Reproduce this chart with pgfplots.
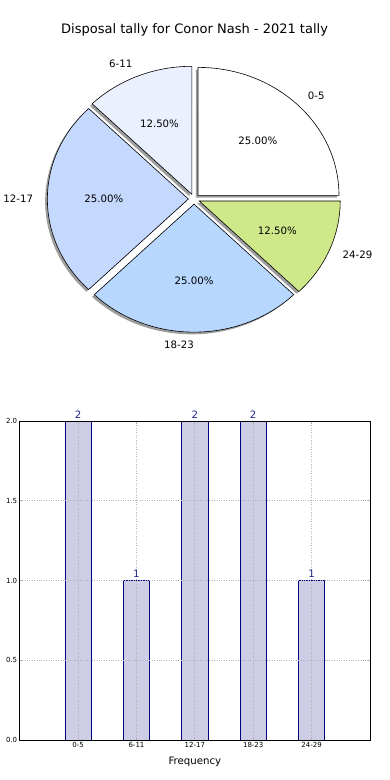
\documentclass[border=0pt]{standalone}
\usepackage{pgfplots}
\pgfplotsset{compat=1.18}
\usepackage{fontspec}
\setmainfont{DejaVu Sans}
\definecolor{cA}{RGB}{255,255,255}
\definecolor{cB}{RGB}{234,240,254}
\definecolor{cC}{RGB}{197,217,254}
\definecolor{cD}{RGB}{183,215,255}
\definecolor{cE}{RGB}{207,233,138}
\definecolor{barfill}{RGB}{205,206,229}
\definecolor{baredge}{RGB}{0,0,128}
\definecolor{lblblue}{RGB}{30,40,140}
\newcommand{\pieshadow}[3]{%
  \fill[black!38, shift={(-2.2pt,-2.2pt)}] (axis cs:{0.04*cos(#3)},{0.04*sin(#3)}) -- (axis cs:{0.04*cos(#3)+cos(#1)},{0.04*sin(#3)+sin(#1)}) arc[start angle=#1, end angle=#2, x radius=141pt, y radius=128pt] -- cycle;}
\newcommand{\pieslice}[4]{%
  \draw[fill=#4, draw=black, line width=0.6pt, line join=miter] (axis cs:{0.04*cos(#3)},{0.04*sin(#3)}) -- (axis cs:{0.04*cos(#3)+cos(#1)},{0.04*sin(#3)+sin(#1)}) arc[start angle=#1, end angle=#2, x radius=141pt, y radius=128pt] -- cycle;}
\begin{document}
\begin{tikzpicture}
% ---------- pie ----------
\begin{axis}[
  at={(0pt,400pt)}, anchor=south west,
  width=390pt, height=380pt, scale only axis,
  xmin=-1.376, xmax=1.390, ymin=-1.414, ymax=1.555,
  hide axis, clip=false]
% counts: 0-5:2, 6-11:1, 12-17:2, 18-23:2, 24-29:1 (total 8) -> angles
\pieshadow{0}{90}{45}
\pieshadow{90}{135}{112.5}
\pieshadow{135}{225}{180}
\pieshadow{225}{315}{270}
\pieshadow{315}{360}{337.5}
\pieslice{0}{90}{45}{cA}
\pieslice{90}{135}{112.5}{cB}
\pieslice{135}{225}{180}{cC}
\pieslice{225}{315}{270}{cD}
\pieslice{315}{360}{337.5}{cE}
\begin{scope}[font=\fontsize{10.2}{12}\selectfont]
\begin{scope}[inner sep=0pt]
\node[anchor=west] at (axis cs:{1.14*cos(45)},{1.14*sin(45)}) {0-5};
\node[anchor=east] at (axis cs:{1.14*cos(112.5)},{1.14*sin(112.5)}) {6-11};
\node[anchor=east] at (axis cs:{1.14*cos(180)},{1.14*sin(180)}) {12-17};
\node[anchor=east] at (axis cs:{1.14*cos(270)},{1.14*sin(270)}) {18-23};
\node[anchor=west] at (axis cs:{1.14*cos(337.5)},{1.14*sin(337.5)}) {24-29};
\end{scope}
\node at (axis cs:{0.64*cos(45)},{0.64*sin(45)}) {25.00\%};
\node at (axis cs:{0.64*cos(112.5)},{0.64*sin(112.5)}) {12.50\%};
\node at (axis cs:{0.64*cos(180)},{0.64*sin(180)}) {25.00\%};
\node at (axis cs:{0.64*cos(270)},{0.64*sin(270)}) {25.00\%};
\node at (axis cs:{0.64*cos(337.5)},{0.64*sin(337.5)}) {12.50\%};
\end{scope}
\node[font=\fontsize{13}{15}\selectfont] at (axis cs:0.004,1.32) {Disposal tally for Conor Nash - 2021 tally};
\end{axis}
% ---------- bars ----------
\begin{axis}[
  at={(19.7pt,40pt)}, anchor=south west,
  width=350.3pt, height=319pt, scale only axis,
  xmin=-1, xmax=5, ymin=0, ymax=2,
  xtick={0,1,2,3,4},
  xticklabels={0-5,6-11,12-17,18-23,24-29},
  ytick={0,0.5,1,1.5,2},
  yticklabels={0.0,0.5,1.0,1.5,2.0},
  grid=major,
  grid style={dotted, gray!60, line width=0.8pt},
  axis on top,
  tick align=inside,
  major tick length=3pt,
  tick style={gray!60, line width=0.8pt},
  axis line style={black, line width=0.9pt},
  ticklabel style={font=\fontsize{7}{8}\selectfont},
  xticklabel style={yshift=1pt},
  yticklabel style={xshift=1pt},
  xlabel={Frequency},
  xlabel style={font=\fontsize{10.2}{12}\selectfont, yshift=-2pt},
  /pgf/number format/assume math mode=true,
  ]
\addplot[ybar, bar width=0.45, fill=barfill, draw=baredge, line width=0.7pt,
  nodes near coords,
  nodes near coords style={font=\fontsize{10.2}{12}\selectfont, text=lblblue, anchor=south, inner sep=2.5pt},
  point meta=explicit symbolic]
  coordinates {(0,2) [2] (1,1) [1] (2,2) [2] (3,2) [2] (4,1) [1]};
\end{axis}
\pgfresetboundingbox
\useasboundingbox (0,0) rectangle (390pt,780pt);
\end{tikzpicture}
\end{document}
